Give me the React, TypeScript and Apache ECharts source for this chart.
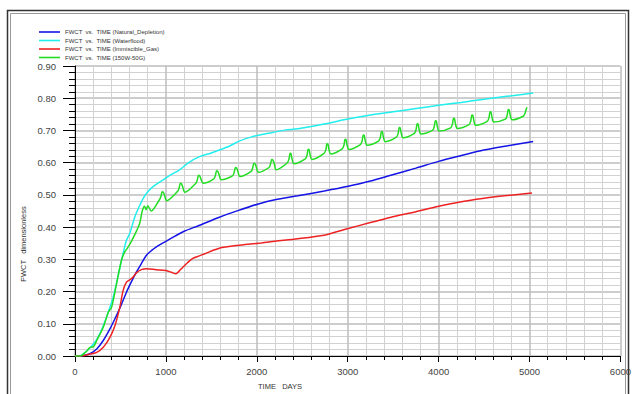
import React, { useEffect, useRef } from "react";
import * as echarts from "echarts";

const seriesNames = [
  "FWCT  vs.  TIME (Natural_Depletion)",
  "FWCT  vs.  TIME (Waterflood)",
  "FWCT  vs.  TIME (Immiscible_Gas)",
  "FWCT  vs.  TIME (150W-50G)",
];
const seriesColors = ["#1414e6", "#22eeee", "#ee2222", "#22dd22"];

const naturalDepletion: [number, number][] = [
  [0, 0], [60, 0], [130, 0.004], [170, 0.008], [239, 0.022], [311, 0.048], [384, 0.084],
  [457, 0.126], [493, 0.148], [566, 0.198], [620, 0.23], [675, 0.26], [730, 0.287],
  [784, 0.312], [840, 0.327], [892, 0.338], [1000, 0.356], [1100, 0.372], [1200, 0.387],
  [1364, 0.405], [1581, 0.43], [1799, 0.452], [2017, 0.472], [2200, 0.485], [2452, 0.497],
  [2742, 0.512], [2992, 0.526], [3250, 0.543], [3474, 0.561], [3750, 0.583], [4000, 0.604],
  [4250, 0.622], [4497, 0.639], [4750, 0.652], [5040, 0.666],
];

const waterflood: [number, number][] = [
  [0, 0], [40, 0], [130, 0.016], [203, 0.037], [260, 0.062], [311, 0.094], [365, 0.135],
  [420, 0.183], [475, 0.25], [529, 0.318], [566, 0.359], [602, 0.38], [656, 0.43],
  [700, 0.46], [747, 0.488], [801, 0.51], [865, 0.527], [965, 0.546], [1050, 0.562],
  [1146, 0.577], [1255, 0.601], [1364, 0.618], [1508, 0.631], [1690, 0.65], [1799, 0.666],
  [1944, 0.68], [2125, 0.691], [2307, 0.701], [2452, 0.705], [2742, 0.72], [2960, 0.733],
  [3250, 0.748], [3500, 0.758], [3750, 0.768], [4000, 0.778], [4250, 0.787], [4500, 0.797],
  [4750, 0.806], [5040, 0.816],
];

const immiscibleGas: [number, number][] = [
  [0, 0], [60, 0], [167, 0.006], [239, 0.011], [311, 0.027], [384, 0.058], [439, 0.094],
  [493, 0.151], [529, 0.203], [566, 0.229], [602, 0.236], [640, 0.245], [675, 0.258],
  [730, 0.268], [784, 0.271], [892, 0.268], [1000, 0.265], [1060, 0.26], [1110, 0.255],
  [1150, 0.265], [1182, 0.274], [1240, 0.29], [1291, 0.302], [1360, 0.31], [1436, 0.318],
  [1520, 0.328], [1617, 0.337], [1750, 0.342], [1872, 0.346], [2050, 0.351], [2198, 0.356],
  [2452, 0.364], [2742, 0.375], [2850, 0.383], [2996, 0.395], [3250, 0.414], [3467, 0.43],
  [3750, 0.448], [3989, 0.464], [4250, 0.479], [4483, 0.489], [4750, 0.498], [5027, 0.506],
];

const w150g50: [number, number][] = [
  [0, 0], [58, 0], [113, 0.011], [167, 0.027], [203, 0.029], [239, 0.048], [311, 0.089],
  [366, 0.136], [402, 0.151], [457, 0.224], [511, 0.297], [547, 0.323], [573, 0.333],
  [620, 0.356], [680, 0.39], [711, 0.411], [740, 0.45], [765, 0.465], [783, 0.454],
  [801, 0.466], [838, 0.45],
  [929, 0.485], [946, 0.496], [959, 0.51], [972, 0.508], [986, 0.498], [1009, 0.482],
  [1129, 0.511], [1146, 0.522], [1159, 0.536], [1172, 0.534], [1186, 0.524], [1209, 0.508],
  [1329, 0.536], [1346, 0.547], [1359, 0.561], [1372, 0.559], [1386, 0.549], [1409, 0.536],
  [1528, 0.55], [1545, 0.561], [1558, 0.575], [1571, 0.573], [1585, 0.563], [1608, 0.547],
  [1735, 0.56], [1752, 0.571], [1765, 0.585], [1778, 0.583], [1792, 0.573], [1815, 0.557],
  [1938, 0.573], [1955, 0.584], [1968, 0.598], [1981, 0.596], [1995, 0.586], [2018, 0.57],
  [2134, 0.585], [2151, 0.596], [2164, 0.61], [2177, 0.608], [2191, 0.598], [2214, 0.578],
  [2334, 0.599], [2354, 0.611], [2366, 0.629], [2376, 0.628], [2388, 0.611], [2408, 0.597],
  [2533, 0.612], [2553, 0.624], [2565, 0.642], [2575, 0.641], [2587, 0.624], [2607, 0.61],
  [2740, 0.629], [2760, 0.641], [2772, 0.659], [2782, 0.658], [2794, 0.641], [2814, 0.627],
  [2939, 0.643], [2959, 0.655], [2971, 0.673], [2981, 0.672], [2993, 0.655], [3013, 0.641],
  [3139, 0.656], [3159, 0.668], [3171, 0.686], [3181, 0.685], [3193, 0.668], [3213, 0.654],
  [3339, 0.667], [3359, 0.679], [3371, 0.697], [3381, 0.696], [3393, 0.679], [3413, 0.665],
  [3535, 0.679], [3555, 0.691], [3567, 0.709], [3577, 0.708], [3589, 0.691], [3609, 0.677],
  [3732, 0.691], [3752, 0.703], [3764, 0.721], [3774, 0.72], [3786, 0.703], [3806, 0.689],
  [3932, 0.7], [3952, 0.712], [3964, 0.73], [3974, 0.729], [3986, 0.712], [4006, 0.698],
  [4132, 0.708], [4152, 0.72], [4164, 0.738], [4174, 0.737], [4186, 0.72], [4206, 0.706],
  [4334, 0.718], [4354, 0.73], [4366, 0.748], [4376, 0.747], [4388, 0.73], [4408, 0.716],
  [4534, 0.728], [4554, 0.74], [4566, 0.758], [4576, 0.757], [4588, 0.74], [4608, 0.726],
  [4734, 0.735], [4754, 0.747], [4766, 0.765], [4776, 0.764], [4788, 0.747], [4808, 0.733],
  [4930, 0.744], [4952, 0.755], [4966, 0.768], [4973, 0.772],
];

const seriesData = [naturalDepletion, waterflood, immiscibleGas, w150g50];

const xAxisTitle = "TIME   DAYS";
const yAxisTitle = "FWCT   dimensionless";

const FONT = "Liberation Sans, Arial, sans-serif";

export default function App() {
  const ref = useRef<HTMLDivElement>(null);
  useEffect(() => {
    if (!ref.current) return;
    const chart = echarts.init(ref.current, null, { renderer: "svg" });
    const majorSplit = { show: true, lineStyle: { color: "#bdbdbd", width: 1.5 } };
    const minorSplit = { show: true, lineStyle: { color: "#d2d2d2", width: 1 } };
    chart.setOption({
      animation: false,
      backgroundColor: "#ffffff",
      grid: { left: 75, right: 8, top: 66, bottom: 38 },
      legend: {
        orient: "vertical",
        left: 39,
        top: 28,
        padding: 0,
        itemGap: 0.5,
        itemWidth: 21,
        itemHeight: 1.6,
        icon: "rect",
        data: seriesNames,
        textStyle: { fontSize: 6, color: "#333", fontFamily: FONT, lineHeight: 8 },
      },
      xAxis: {
        type: "value",
        min: 0,
        max: 6000,
        interval: 1000,
        axisLine: { show: true, onZero: false, lineStyle: { color: "#000", width: 1 } },
        axisTick: { show: true, length: 6, lineStyle: { color: "#000" } },
        minorTick: { show: true, splitNumber: 5, length: 4, lineStyle: { color: "#000" } },
        splitLine: majorSplit,
        minorSplitLine: minorSplit,
        axisLabel: {
          fontSize: 9.5,
          color: "#444",
          fontFamily: FONT,
          margin: 10,
          formatter: (v: number) => String(v),
        },
      },
      yAxis: {
        type: "value",
        min: 0,
        max: 0.9,
        interval: 0.1,
        axisLine: { show: true, onZero: false, lineStyle: { color: "#000", width: 1 } },
        axisTick: { show: true, length: 12, lineStyle: { color: "#000" } },
        minorTick: { show: true, splitNumber: 5, length: 6, lineStyle: { color: "#000" } },
        splitLine: majorSplit,
        minorSplitLine: minorSplit,
        axisLabel: {
          fontSize: 9.5,
          color: "#444",
          fontFamily: FONT,
          margin: 19,
          formatter: (v: number) => v.toFixed(2),
        },
      },
      graphic: [
        {
          type: "rect",
          z: -10,
          silent: true,
          shape: { x: 7.5, y: 10.5, width: 621, height: 420 },
          style: { fill: "none", stroke: "#333", lineWidth: 1.5 },
        },
        {
          type: "rect",
          z: -10,
          silent: true,
          shape: { x: 10.5, y: 13.5, width: 615, height: 420 },
          style: { fill: "none", stroke: "#999", lineWidth: 1 },
        },
        {
          type: "text",
          x: 280,
          y: 386,
          style: {
            text: xAxisTitle,
            fontSize: 7.5,
            fill: "#333",
            fontFamily: FONT,
            align: "center",
            verticalAlign: "middle",
          },
        },
        {
          type: "text",
          x: 23,
          y: 244,
          rotation: Math.PI / 2,
          style: {
            text: yAxisTitle,
            fontSize: 7.5,
            fill: "#333",
            fontFamily: FONT,
            align: "center",
            verticalAlign: "middle",
          },
        },
      ],
      series: seriesNames.map((name, i) => ({
        name,
        type: "line",
        data: seriesData[i],
        symbol: "none",
        smooth: 0.3,
        lineStyle: { color: seriesColors[i], width: 1.5 },
        itemStyle: { color: seriesColors[i] },
      })),
    });
    return () => chart.dispose();
  }, []);
  return (
    <div
      ref={ref}
      style={{ position: "absolute", left: 0, top: 0, width: 634, height: 394, background: "#fff" }}
    />
  );
}
